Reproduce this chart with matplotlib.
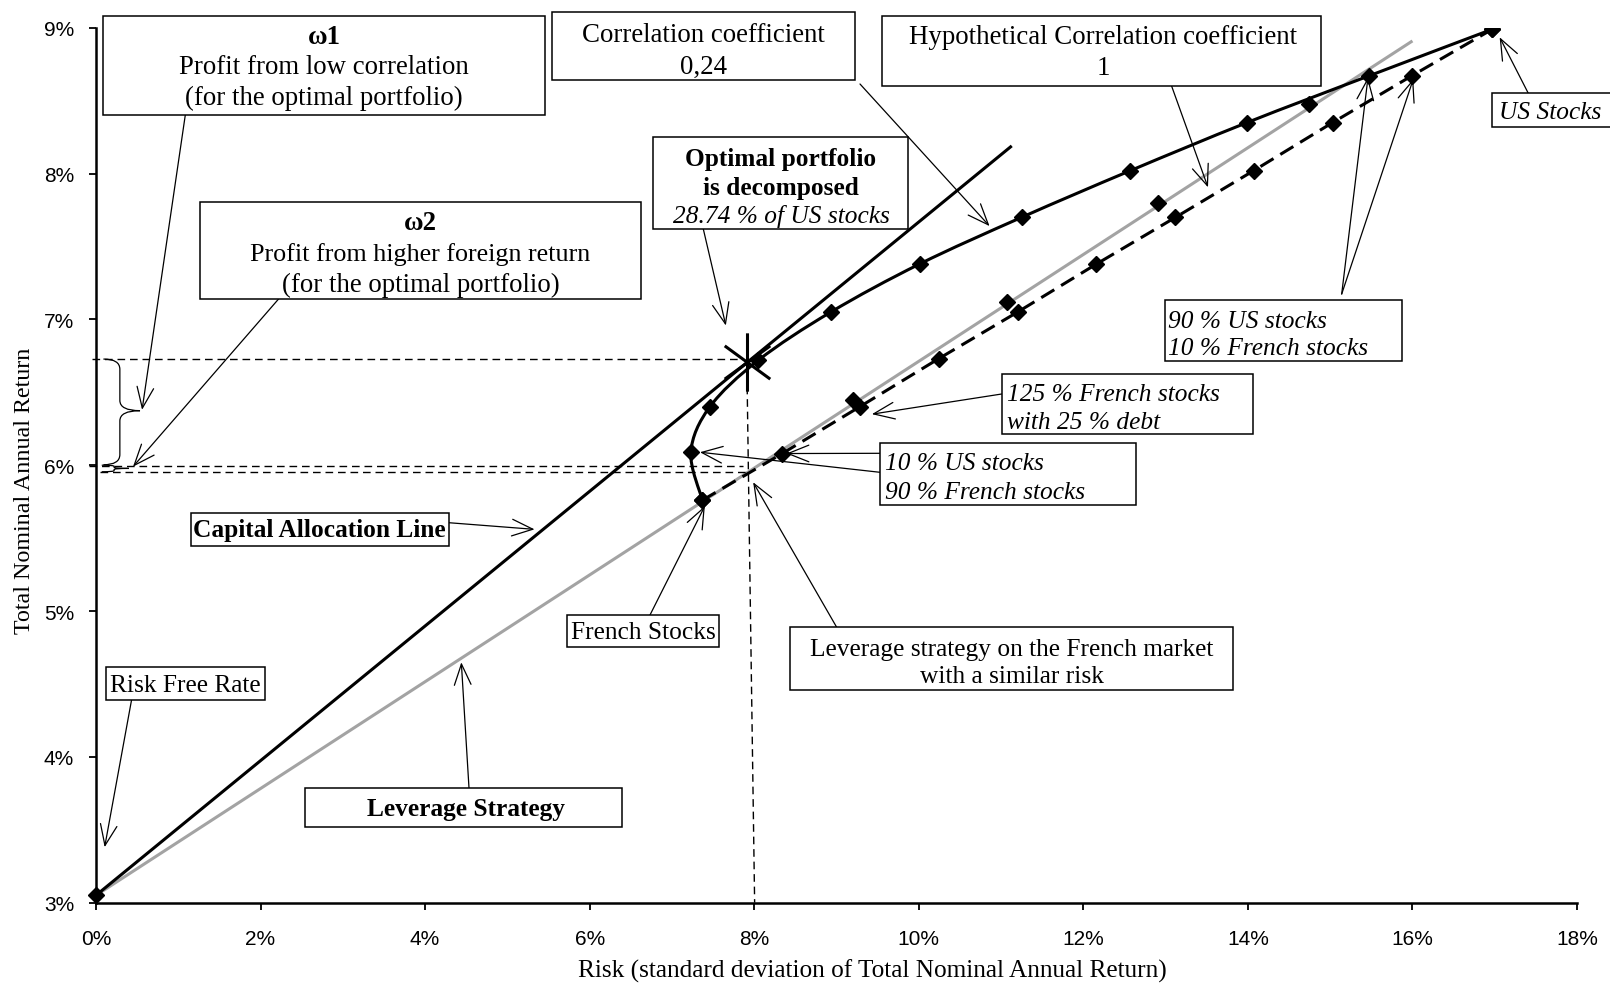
import numpy as np
import matplotlib
matplotlib.use("Agg")
import matplotlib.pyplot as plt
from matplotlib.path import Path
from matplotlib.patches import PathPatch, Rectangle

# ---------------- data ----------------
x_ticks = [0, 2, 4, 6, 8, 10, 12, 14, 16, 18]
y_ticks = [3, 4, 5, 6, 7, 8, 9]
x_tick_labels = ["0%", "2%", "4%", "6%", "8%", "10%", "12%", "14%", "16%", "18%"]
y_tick_labels = ["3%", "4%", "5%", "6%", "7%", "8%", "9%"]

# risk free asset
rf_risk = [0.0]
rf_ret = [3.05]

# efficient frontier, correlation 0.24 (French -> US, 10 % steps)
c024_risk = [7.37, 7.23, 7.46, 8.05, 8.93, 10.01, 11.25, 12.57, 13.99, 15.47, 16.97]
c024_ret = [5.76, 6.09, 6.40, 6.72, 7.05, 7.38, 7.70, 8.02, 8.35, 8.67, 8.99]

# hypothetical correlation 1 (French -> US, 10 % steps)
c1_risk = [7.37, 8.34, 9.28, 10.24, 11.20, 12.16, 13.12, 14.07, 15.03, 15.99, 16.97]
c1_ret = [5.76, 6.08, 6.40, 6.73, 7.05, 7.38, 7.70, 8.02, 8.35, 8.67, 8.99]

# leverage strategy on French stocks (grey line) and its marked points
lev_line_risk = [0.0, 16.0]
lev_line_ret = [3.05, 8.91]
lev_pts_risk = [9.20, 11.07, 12.91, 14.74]
lev_pts_ret = [6.45, 7.12, 7.80, 8.48]

# capital allocation line
cal_risk = [0.0, 11.13]
cal_ret = [3.05, 8.19]

# optimal portfolio (28.74 % US stocks)
opt_risk = [7.91]
opt_ret = [6.71]

# ---------------- figure ----------------
W, H = 1610, 987
fig = plt.figure(figsize=(W / 100, H / 100), dpi=100)
ax = fig.add_axes([96 / W, 1 - 903.6 / H, (1577 - 96) / W, (903.6 - 28.8) / H])
ax.set_xlim(0, 18)
ax.set_ylim(3, 9)

SERIF = "Liberation Serif"
SANS = "Liberation Sans"

for s in ["top", "right"]:
    ax.spines[s].set_visible(False)
for s in ["left", "bottom"]:
    ax.spines[s].set_linewidth(1.8)
ax.set_xticks(x_ticks)
ax.set_xticklabels(x_tick_labels, fontfamily=SANS, fontsize=15)
ax.set_yticks(y_ticks)
ax.set_yticklabels(y_tick_labels, fontfamily=SANS, fontsize=15)
ax.tick_params(axis="x", direction="out", length=5, width=1.3, pad=14)
ax.tick_params(axis="y", direction="out", length=5, width=1.3, pad=10.8)


def fp(x, y):
    return (x / W, 1 - y / H)


# axis titles
fig.text(*fp(872, 971), "Risk (standard deviation of Total Nominal Annual Return)",
         ha="center", va="center", fontsize=18.2, family=SERIF)
fig.text(*fp(25, 490.5), "Total Nominal Annual Return", ha="center", va="center",
         rotation=90, fontsize=17.3, family=SERIF)

# ---------------- series ----------------
ax.plot(lev_line_risk, lev_line_ret, color="#A3A3A3", lw=2.2, zorder=2, solid_capstyle="butt")
ax.plot(cal_risk, cal_ret, color="black", lw=2.2, zorder=2.2, solid_capstyle="butt")


def smooth_path(xs, ys):
    P = np.column_stack([xs, ys]).astype(float)
    n = len(P)
    verts = [P[0]]
    codes = [Path.MOVETO]
    for i in range(n - 1):
        p0 = P[i - 1] if i > 0 else P[i]
        p1 = P[i]
        p2 = P[i + 1]
        p3 = P[i + 2] if i + 2 < n else P[i + 1]
        verts += [p1 + (p2 - p0) / 6.0, p2 - (p3 - p1) / 6.0, p2]
        codes += [Path.CURVE4] * 3
    return Path(verts, codes)


MS = 8.2
ax.add_patch(PathPatch(smooth_path(c024_risk, c024_ret), fill=False, edgecolor="black",
                       lw=2.2, zorder=2.5))
ax.plot(c024_risk, c024_ret, ls="none", marker="D", ms=MS, color="black", zorder=3)

ax.plot(c1_risk, c1_ret, color="black", lw=2.2, ls=(0, (5, 2.6)), zorder=2.4,
        marker="D", ms=MS)
ax.plot(lev_pts_risk, lev_pts_ret, ls="none", marker="D", ms=MS, color="black", zorder=3)
ax.plot(rf_risk, rf_ret, ls="none", marker="D", ms=MS, color="black", zorder=4, clip_on=False)

# optimal portfolio marker: asterisk made of strokes
star = Path([(0, -1), (0, 1), (-0.78, 0.57), (0.78, -0.57), (-0.78, -0.57), (0.78, 0.57)],
            [Path.MOVETO, Path.LINETO, Path.MOVETO, Path.LINETO, Path.MOVETO, Path.LINETO])
ax.plot(opt_risk, opt_ret, ls="none", marker=star, ms=42, mew=2.2, mec="black",
        mfc="none", zorder=4)

# ---------------- thin dashed guide lines ----------------
thin = dict(color="black", lw=1.0, ls=(0, (5.5, 3.5)), zorder=2.1, clip_on=False)
ax.plot([-0.05, 7.86], [6.728, 6.728], **thin)
ax.plot([-0.09, 7.86], [5.997, 5.997], **thin)
ax.plot([0.05, 7.93], [5.951, 5.951], **thin)
ax.plot([7.91, 8.005], [6.71, 3.0], **thin)


# ---------------- braces ----------------
def brace(xl, xs, xt, yt, ym, yb, d):
    v = [(xl, yt), (xs, yt), (xs, yt - d), (xs, ym + d), (xs, ym), (xt, ym),
         (xs, ym), (xs, ym - d), (xs, yb + d), (xs, yb), (xl, yb)]
    c = [Path.MOVETO, Path.CURVE3, Path.CURVE3, Path.LINETO, Path.CURVE3, Path.CURVE3,
         Path.CURVE3, Path.CURVE3, Path.LINETO, Path.CURVE3, Path.CURVE3]
    ax.add_patch(PathPatch(Path(v, c), fill=False, edgecolor="black", lw=0.9,
                           zorder=3, clip_on=False))


brace(0.09, 0.29, 0.535, 6.728, 6.374, 6.003, 0.07)
brace(0.07, 0.22, 0.40, 6.0, 5.978, 5.955, 0.008)


# ---------------- annotation boxes ----------------
def box(x0, y0, x1, y1):
    fig.add_artist(Rectangle(fp(x0, y1), (x1 - x0) / W, (y1 - y0) / H,
                             transform=fig.transFigure, facecolor="white",
                             edgecolor="black", lw=1.1, zorder=5))


def txt(x, y, s, ha="center", weight="normal", style="normal", size=18.3):
    fig.text(*fp(x, y), s, ha=ha, va="center", fontsize=size, fontweight=weight,
             fontstyle=style, family=SERIF, zorder=6)


def arrow(tail, head):
    ax.annotate("", xy=head, xycoords="data", xytext=fp(*tail),
                textcoords="figure fraction", annotation_clip=False, zorder=4.5,
                arrowprops=dict(arrowstyle="->,head_length=0.75,head_width=0.3",
                                lw=0.9, color="black", shrinkA=0, shrinkB=0,
                                mutation_scale=20))


# omega 1
box(103, 17, 545, 116)
txt(324, 37, "ω1", weight="bold", size=19.3)
txt(324, 68, "Profit from low correlation", size=19.3)
txt(324, 98.5, "(for the optimal portfolio)", size=19.3)
arrow((185.3, 116), (0.56, 6.38))

# omega 2
box(200, 202.7, 641, 299.5)
txt(420.5, 223, "ω2", weight="bold", size=19.3)
txt(420.5, 255, "Profit from higher foreign return", size=18.8)
txt(420.5, 285, "(for the optimal portfolio)", size=19.3)
arrow((279, 299.5), (0.45, 5.99))

# correlation coefficient
box(551.7, 13.3, 855, 80.7)
txt(703.3, 35.5, "Correlation coefficient", size=19.4)
txt(703.3, 67, "0,24", size=19.4)
arrow((860, 85), (10.86, 7.64))

# hypothetical correlation coefficient
box(881.7, 16.7, 1320.7, 87.3)
txt(1103, 38, "Hypothetical Correlation coefficient", size=19.4)
txt(1103, 68.5, "1", size=19.4)
arrow((1171.7, 87.3), (13.515, 7.906))

# US stocks
box(1491.7, 94.3, 1614, 128.3)
txt(1499, 113, "US Stocks", ha="left", style="italic")
arrow((1528.3, 94.3), (17.06, 8.935))

# optimal portfolio
box(653.3, 138.3, 908.3, 230)
txt(781, 160, "Optimal portfolio", weight="bold")
txt(781, 188.3, "is decomposed", weight="bold")
txt(781, 216, "28.74 % of US stocks", style="italic")
arrow((703.3, 230), (7.655, 6.958))

# 90 % US
box(1165, 301, 1401.7, 361.7)
txt(1168, 321.7, "90 % US stocks", ha="left", style="italic")
txt(1168, 349.3, "10 % French stocks", ha="left", style="italic")
arrow((1341.7, 295), (15.46, 8.66))
arrow((1341.7, 295), (16.01, 8.648))

# 125 % French
box(1001.7, 375, 1253.3, 435)
txt(1007, 395, "125 % French stocks", ha="left", style="italic")
txt(1007, 423, "with 25 % debt", ha="left", style="italic")
arrow((1001.7, 395), (9.43, 6.35))

# 10 % US
box(880, 444, 1136, 506)
txt(885, 464.3, "10 % US stocks", ha="left", style="italic")
txt(885, 492.7, "90 % French stocks", ha="left", style="italic")
arrow((880, 454.3), (8.39, 6.08))
arrow((880, 473.3), (7.34, 6.089))

# capital allocation line
box(191, 514.4, 448.7, 547.3)
txt(319.8, 531, "Capital Allocation Line", weight="bold")
arrow((448.7, 523.7), (5.33, 5.56))

# French stocks
box(566.7, 616, 719.3, 648.3)
txt(643, 633, "French Stocks")
arrow((650, 616), (7.40, 5.72))

# leverage strategy on the French market
box(790, 628.3, 1233, 690.7)
txt(1011.5, 650, "Leverage strategy on the French market")
txt(1011.5, 677, "with a similar risk")
arrow((836.7, 628.3), (7.987, 5.883))

# risk free rate
box(106, 668.3, 265.3, 700.7)
txt(185.6, 686.5, "Risk Free Rate")
arrow((131.6, 700.7), (0.105, 3.38))

# leverage strategy
box(304.6, 789, 622.4, 828.3)
txt(466, 810, "Leverage Strategy", weight="bold")
arrow((469, 789), (4.44, 4.648))

fig.savefig("out.png", dpi=100)
